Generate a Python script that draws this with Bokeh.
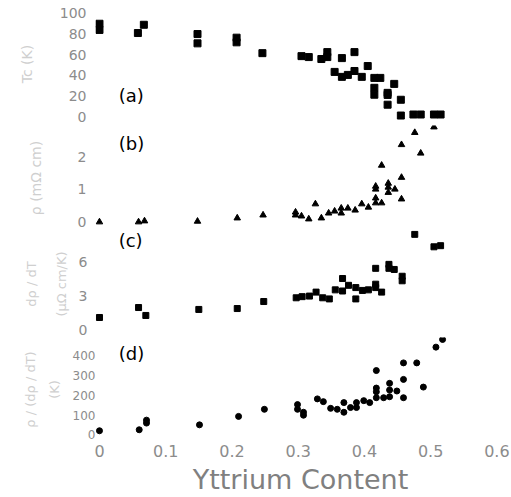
from bokeh.plotting import figure
from bokeh.layouts import column
from bokeh.models import Range1d, FixedTicker, Label
from bokeh.embed import file_html
from bokeh.resources import INLINE

# ---- data ----
# (a) Tc (K)
a_x = [0, 0, 0.058, 0.067, 0.148, 0.148, 0.207, 0.207, 0.246, 0.305, 0.316, 0.335,
       0.344, 0.344, 0.366, 0.385, 0.355, 0.366, 0.375, 0.385, 0.396, 0.405, 0.415,
       0.424, 0.415, 0.415, 0.435, 0.435, 0.435, 0.445, 0.455, 0.455, 0.474, 0.485,
       0.505, 0.515]
a_y = [90, 84, 81, 89, 80, 71, 76.5, 72, 61.5, 58.6, 57.7, 55.8,
       62.5, 57.7, 56.7, 62.5, 43.3, 38.5, 40.4, 44.2, 38.5, 49, 37.5,
       37.5, 27.9, 21.2, 23, 21, 11.5, 31.7, 16.3, 1, 2, 2,
       2, 2]
# (b) resistivity
b_x = [0, 0.059, 0.068, 0.148, 0.208, 0.247, 0.296, 0.296, 0.305, 0.316, 0.326, 0.335,
       0.346, 0.355, 0.365, 0.365, 0.375, 0.386, 0.396, 0.406, 0.417, 0.417, 0.417,
       0.417, 0.426, 0.426, 0.436, 0.436, 0.436, 0.446, 0.456, 0.456, 0.456, 0.476,
       0.485, 0.505]
b_y = [0, 0, 0.03, 0.02, 0.12, 0.21, 0.30, 0.21, 0.18, 0.09, 0.55, 0.12,
       0.27, 0.33, 0.42, 0.27, 0.42, 0.36, 0.55, 0.45, 0.58, 0.73, 1.0,
       1.09, 0.58, 1.73, 0.9, 1.06, 1.18, 1.0, 1.36, 0.7, 2.36, 2.73,
       2.1, 2.9]
# (c) d rho / dT
c_x = [0, 0.059, 0.070, 0.150, 0.208, 0.248, 0.297, 0.306, 0.317, 0.327, 0.337, 0.347,
       0.356, 0.367, 0.367, 0.376, 0.387, 0.387, 0.397, 0.406, 0.417, 0.417, 0.417,
       0.426, 0.437, 0.437, 0.445, 0.457, 0.457, 0.476, 0.505, 0.515]
c_y = [1.06, 1.94, 1.24, 1.77, 1.85, 2.47, 2.8, 2.9, 2.95, 3.3, 2.8, 2.7,
       3.5, 3.4, 4.5, 3.9, 3.7, 2.7, 3.45, 3.5, 3.7, 4.0, 5.4,
       3.3, 5.75, 5.4, 5.3, 4.7, 4.3, 8.4, 7.3, 7.4]
# (d) rho / (d rho / dT)
d_x = [0, 0.06, 0.071, 0.071, 0.151, 0.21, 0.249, 0.299, 0.299, 0.308, 0.308, 0.329,
       0.338, 0.349, 0.359, 0.369, 0.369, 0.379, 0.388, 0.388, 0.399, 0.408, 0.418,
       0.418, 0.418, 0.418, 0.429, 0.438, 0.438, 0.438, 0.449, 0.459, 0.459, 0.459,
       0.479, 0.489, 0.508, 0.518]
d_y = [20, 25, 59, 74, 50, 93, 129, 153, 129, 114, 99, 182,
       168, 134, 129, 163, 114, 138, 163, 138, 173, 163, 188,
       218, 237, 326, 188, 193, 227, 261, 222, 188, 281, 365,
       365, 242, 445, 484]

a_ticks = [0, 20, 40, 60, 80, 100]
b_ticks = [0, 1, 2]
c_ticks = [0, 3, 6]
d_ticks = [0, 100, 200, 300, 400]
x_tick_values = [0, 0.1, 0.2, 0.3, 0.4, 0.5, 0.6]
x_tick_labels = ["0", "0.1", "0.2", "0.3", "0.4", "0.5", "0.6"]

FONT = "DejaVu Sans"
TICK_COLOR = "#8c8c8c"
LABEL_COLOR = "#cfcfcf"


def make_panel(height, yr, ticks, ylabel, tick_size, tick_standoff, lab_standoff,
               top=0, bottom=0, lab_size="14px", line_h=1.2):
    p = figure(width=511, height=height, output_backend="svg", toolbar_location=None,
               x_range=Range1d(-0.006, 0.613), y_range=Range1d(*yr),
               min_border_left=95, min_border_right=6,
               min_border_top=top, min_border_bottom=bottom)
    p.outline_line_color = None
    p.grid.visible = False
    p.background_fill_color = "white"
    p.border_fill_color = "white"
    ax = p.yaxis[0]
    ax.ticker = FixedTicker(ticks=ticks)
    ax.axis_line_color = None
    ax.major_tick_line_color = None
    ax.minor_tick_line_color = None
    ax.major_tick_out = 0
    ax.major_label_standoff = tick_standoff
    ax.major_label_text_font = FONT
    ax.major_label_text_font_size = tick_size
    ax.major_label_text_color = TICK_COLOR
    ax.axis_label = ylabel
    ax.axis_label_text_font = FONT
    ax.axis_label_text_font_style = "normal"
    ax.axis_label_text_font_size = lab_size
    ax.axis_label_text_color = LABEL_COLOR
    ax.axis_label_standoff = lab_standoff
    ax.axis_label_text_line_height = line_h
    return p


pa = make_panel(125, (-8.65, 110.6), a_ticks, "Tc (K)", "14px", 9, 22, top=2)
pb = make_panel(105, (-0.26, 2.947), b_ticks, "ρ (mΩ cm)", "14px", 9, 31)
pc = make_panel(107, (-0.706, 8.74), c_ticks, "dρ / dT\n(μΩ cm/K)", "14px", 8, 7,
                lab_size="13px", line_h=2.0)
pd = make_panel(160, (-34.6, 494), d_ticks, "ρ / (dρ / dT)\n(K)", "12px", 0, 8,
                bottom=53, lab_size="13px", line_h=1.6)

for p in (pa, pb, pc):
    p.xaxis.visible = False

xa = pd.xaxis[0]
xa.ticker = FixedTicker(ticks=x_tick_values)
xa.major_label_overrides = {v: s for v, s in zip(x_tick_values, x_tick_labels)}
xa.axis_line_color = None
xa.major_tick_line_color = None
xa.minor_tick_line_color = None
xa.major_tick_out = 0
xa.major_label_standoff = 3
xa.major_label_text_font = FONT
xa.major_label_text_font_size = "16px"
xa.major_label_text_color = TICK_COLOR
xa.axis_label = "Yttrium Content"
xa.axis_label_text_font = FONT
xa.axis_label_text_font_style = "normal"
xa.axis_label_text_font_size = "27px"
xa.axis_label_text_color = "#808080"
xa.axis_label_standoff = 4

pa.scatter(a_x, a_y, marker="square", size=7, color="black")
pb.scatter(b_x, b_y, marker="triangle", size=6.5, color="black")
pc.scatter(c_x, c_y, marker="square", size=6, color="black")
pd.scatter(d_x, d_y, marker="circle", size=6, color="black")

for p, yv, t in ((pa, 20, "(a)"), (pb, 2.4, "(b)"), (pc, 7.9, "(c)"), (pd, 414, "(d)")):
    p.add_layout(Label(x=0.029, y=yv, text=t, text_font=FONT, text_font_size="18px",
                       text_color="black", text_baseline="middle"))

layout = column(pa, pb, pc, pd, spacing=0)
open("out.html", "w").write(file_html(layout, INLINE))
